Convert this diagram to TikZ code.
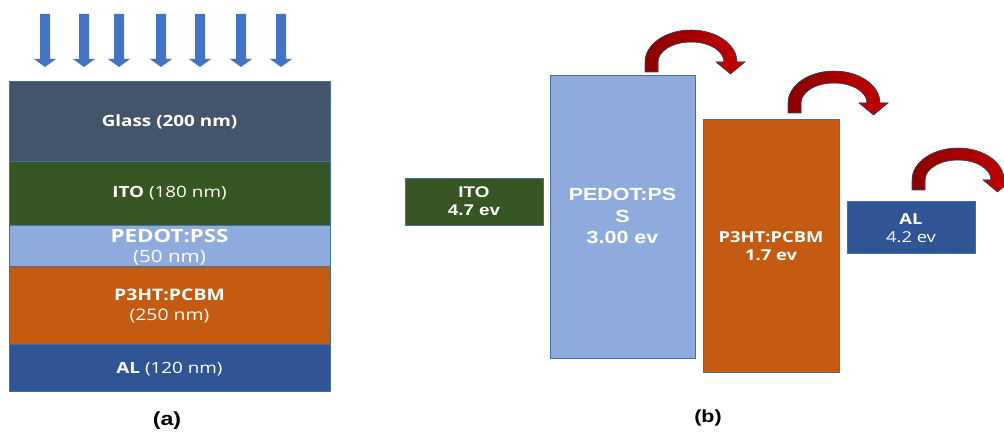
\documentclass[tikz,border=0pt]{standalone}
\usepackage{fontspec}
\setmainfont{Liberation Sans}
\newfontfamily\segoe{Open Sans}
\definecolor{glass}{RGB}{68,84,106}
\definecolor{itogreen}{RGB}{55,86,35}
\definecolor{pedotblue}{RGB}{143,170,220}
\definecolor{pcbmorange}{RGB}{197,90,17}
\definecolor{alblue}{RGB}{47,85,151}
\definecolor{lightblue}{RGB}{68,114,196}
\definecolor{edgeblue}{RGB}{65,113,156}
\definecolor{hopred}{RGB}{196,0,0}
\definecolor{hopdark}{RGB}{140,0,0}
\tikzset{
  layer/.style={fill=#1,draw=edgeblue,line width=0.6pt},
  lbl/.style={text=white,align=center,inner sep=0pt,xscale=1.22},
  hop/.pic={
    \filldraw[left color=hopdark,right color=hopred,draw=edgeblue!70!black,line width=0.4pt]
      (0,10) -- (0,0) arc[start angle=180,end angle=360,x radius=46,y radius=32]
      -- (100,0) -- (85.5,12) -- (71,0) -- (79,0)
      arc[start angle=360,end angle=180,x radius=33,y radius=20]
      -- (13,10) -- cycle;
  }
}
\begin{document}
\begin{tikzpicture}[x=0.025cm,y=-0.025cm]
\useasboundingbox (0,0) rectangle (1004,432);
% light falling on the glass
\foreach \x in {45,84,119,161,200,241,281}
  \fill[lightblue] (\x-5,14) -- (\x+5,14) -- (\x+5,59) -- (\x+11,59) -- (\x,67)
    -- (\x-11,59) -- (\x-5,59) -- cycle;
% (a) layer stack
\draw[layer=glass] (9,81) rectangle (330,161);
\draw[layer=itogreen] (9,161) rectangle (330,225);
\draw[layer=pedotblue] (9,225) rectangle (330,266);
\draw[layer=pcbmorange] (9,266) rectangle (330,344);
\draw[layer=alblue] (9,344) rectangle (330,391);
\node[lbl,font=\segoe\fontsize{11}{13}\selectfont] (glassL) at (169.5,122) {\textbf{Glass (200 nm)}};
\node[lbl,font=\segoe\fontsize{11}{13}\selectfont] (itoL) at (169.5,193) {\textbf{ITO} (180 nm)};
\node[lbl,font=\segoe\fontsize{12}{14}\selectfont] (pedotL) at (169.5,247) {{\fontsize{13}{14}\selectfont\textbf{PEDOT:PSS}}\\(50 nm)};
\node[lbl,font=\segoe\fontsize{11.3}{14}\selectfont] (pcbmL) at (169.5,306) {\textbf{P3HT:PCBM}\\(250 nm)};
\node[lbl,font=\segoe\fontsize{11}{13}\selectfont] (alL) at (169.5,369) {\textbf{AL} (120 nm)};
\node[font=\bfseries\fontsize{13.5}{15}\selectfont,xscale=1.22] (capa) at (167,421) {(a)};
% (b) energy levels
\draw[layer=itogreen] (405,178) rectangle (543,225);
\draw[layer=pedotblue] (550,75) rectangle (695,358);
\draw[layer=pcbmorange] (703,119) rectangle (839,372);
\draw[layer=alblue] (847,201) rectangle (975,253);
\node[lbl,font=\bfseries\fontsize{11}{13}\selectfont] (itoR) at (474,201) {ITO\\4.7 ev};
\node[lbl,font=\bfseries\fontsize{12.5}{15}\selectfont] (pedotR) at (622.5,216) {PEDOT:PS\\S\\3.00 ev};
\node[lbl,font=\segoe\bfseries\fontsize{10.7}{12.8}\selectfont] (pcbmR) at (771,246) {P3HT:PCBM\\1.7 ev};
\node[lbl,font=\segoe\fontsize{10.7}{13}\selectfont] (alR) at (911,228) {\textbf{AL}\\4.2 ev};
\node[font=\bfseries\fontsize{12.5}{15}\selectfont,xscale=1.22] (capb) at (708,418) {(b)};
% electron hops
\pic at (645,62) {hop};
\pic at (788,103) {hop};
\pic at (912,180) {hop};
\end{tikzpicture}
\end{document}
